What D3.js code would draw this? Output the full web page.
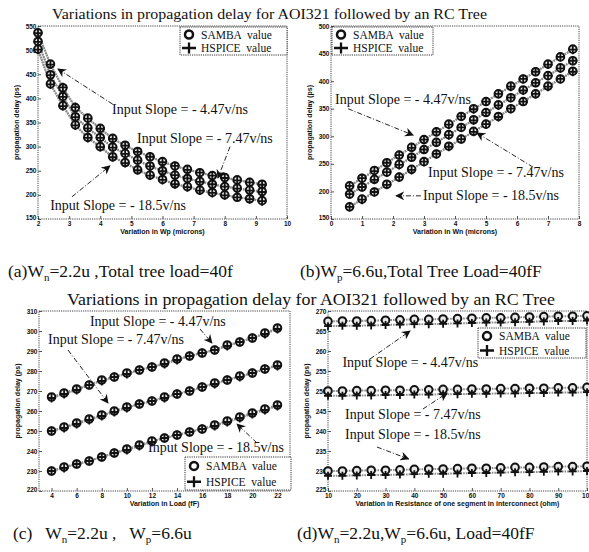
<!DOCTYPE html>
<html><head><meta charset="utf-8">
<script src="https://cdn.jsdelivr.net/npm/d3@7"></script>
<style>
body{margin:0;background:#fff}
.tk text{font-family:"Liberation Sans",Arial,sans-serif;font-weight:bold;font-size:6.5px;fill:#111}
.axl{font-family:"Liberation Sans",Arial,sans-serif;font-weight:bold;font-size:7px;fill:#111}
.serif{font-family:"Liberation Serif","Times New Roman",serif;fill:#111}
</style></head><body><svg id="c" width="589" height="552"></svg>
<script>
// ---------- data ----------
const titleText = "Variations in propagation delay for AOI321 followed by an RC Tree";
const slopeLabels = ["Input Slope = - 4.47v/ns", "Input Slope = - 7.47v/ns", "Input Slope = - 18.5v/ns"];
const legendLabels = ["SAMBA  value", "HSPICE  value"];

// (a) variation in Wp
const aX = [2.0,2.4,2.8,3.2,3.6,4.0,4.4,4.8,5.2,5.6,6.0,6.4,6.8,7.2,7.6,8.0,8.4,8.8,9.2];
const aSamba447 = [536,471,422,381,359,338,317,303,290,279,269,260,253,246,240,236,231,226,222];
const aHspice447 = [535,470,423,382,358,337,316,302,289,279,268,260,252,246,240,235,230,226,221];
const aSamba747 = [518,449,404,362,339,319,299,286,272,260,250,241,234,228,222,217,214,210,207];
const aHspice747 = [517,448,403,361,338,318,298,285,271,259,249,241,234,227,222,217,213,209,206];
const aSamba185 = [502,430,385,345,319,300,279,267,252,241,232,223,217,210,205,200,195,192,188];
const aHspice185 = [501,429,384,344,318,299,278,266,251,240,231,222,216,209,204,199,195,191,187];
const aXTicks = [2,3,4,5,6,7,8,9,10];
const aYTicks = [150,200,250,300,350,400,450,500,550];

// (b) variation in Wn
const bX = [0.6,1.0,1.4,1.8,2.2,2.6,3.0,3.4,3.8,4.2,4.6,5.0,5.4,5.8,6.2,6.6,7.0,7.4,7.8];
const bSamba447 = [210,224,238,252,266,280,294,308,322,336,350,363,377,391,404,417,431,444,458];
const bHspice447 = [210,224,237,252,266,279,294,308,321,336,349,363,377,390,404,417,430,444,457];
const bSamba747 = [195,208,222,235,249,262,276,289,303,316,330,343,357,370,384,397,410,424,437];
const bHspice747 = [195,208,221,235,248,262,276,289,302,316,329,343,356,370,383,397,410,423,437];
const bSamba185 = [172,186,199,213,226,240,254,268,282,295,309,322,336,350,363,377,391,404,418];
const bHspice185 = [172,185,199,212,226,239,254,268,281,295,308,322,335,350,363,377,390,404,417];
const bXTicks = [0,1,2,3,4,5,6,7,8];
const bYTicks = [150,200,250,300,350,400,450,500];

// (c) variation in load
const cX = [4,5,6,7,8,9,10,11,12,13,14,15,16,17,18,19,20,21,22];
const cSamba447 = [267,269,271,273,275.5,277,279,280.5,282,284,286,287.5,289,290.5,293,294.5,296.5,299,301.5];
const cHspice447 = [266.5,268.5,270.5,273,275,277,278.5,280.5,282,283.5,285.5,287.5,289,290.5,292.5,294.5,296.5,298.5,301];
const cSamba747 = [250,252,254,256,258,260,262,263.5,265,267,268.5,270,272,274,275.5,277.5,279,281,283];
const cHspice747 = [250,251.5,253.5,255.5,257.5,259.5,261.5,263.5,265,266.5,268.5,270,272,273.5,275.5,277,279,281,282.5];
const cSamba185 = [230,232,233.5,235,237,239,241,243,245,246.5,248,249.5,251,253,255,257,259,261,263];
const cHspice185 = [230,231.5,233.5,235,237,239,240.5,242.5,244.5,246.5,248,249.5,251,252.5,254.5,256.5,258.5,260.5,262.5];
const cXTicks = [4,6,8,10,12,14,16,18,20,22];
const cYTicks = [220,230,240,250,260,270,280,290,300,310];

// (d) variation in resistance of one segment
const dX = [10,15,20,25,30,35,40,45,50,55,60,65,70,75,80,85,90,95,100];
const dSamba447 = [267.4,267.5,267.5,267.6,267.7,267.8,267.9,267.9,268.0,268.1,268.2,268.3,268.3,268.4,268.5,268.6,268.7,268.7,268.8];
const dHspice447 = [266.2,266.3,266.3,266.4,266.5,266.6,266.7,266.7,266.8,266.9,267.0,267.1,267.1,267.2,267.3,267.4,267.5,267.5,267.6];
const dSamba747 = [250.0,250.0,250.1,250.1,250.2,250.2,250.3,250.3,250.4,250.4,250.5,250.5,250.6,250.6,250.7,250.7,250.8,250.8,250.9];
const dHspice747 = [248.8,248.8,248.9,248.9,249.0,249.0,249.1,249.1,249.2,249.2,249.3,249.3,249.4,249.4,249.5,249.5,249.6,249.6,249.7];
const dSamba185 = [230.0,230.0,230.1,230.2,230.2,230.3,230.4,230.5,230.5,230.6,230.7,230.7,230.8,230.9,230.9,231.0,231.1,231.1,231.2];
const dHspice185 = [228.8,228.8,228.9,229.0,229.0,229.1,229.2,229.3,229.3,229.4,229.5,229.5,229.6,229.7,229.7,229.8,229.9,229.9,230.0];
const dXTicks = [10,20,30,40,50,60,70,80,90,100];
const dYTicks = [225,230,235,240,245,250,255,260,265,270];

// ---------- drawing ----------
const svg = d3.select("#c");
const defs = svg.append("defs");
defs.append("marker").attr("id","ah").attr("viewBox","0 0 10 10").attr("refX",9).attr("refY",5)
  .attr("markerWidth",9).attr("markerHeight",9).attr("orient","auto").attr("markerUnits","userSpaceOnUse")
  .append("path").attr("d","M0,0L10,5L0,10L3,5Z").attr("fill","#111");

function drawPanel(p){
  const g = svg.append("g");
  const x = d3.scaleLinear().domain(p.xDomain).range([p.left, p.right]);
  const y = d3.scaleLinear().domain(p.yDomain).range([p.bottom, p.top]);
  const xa = g.append("g").attr("class","tk").attr("transform",`translate(0,${p.bottom})`)
    .call(d3.axisBottom(x).tickValues(p.xTicks).tickSize(-3).tickPadding(2).tickFormat(d3.format("d")));
  const ya = g.append("g").attr("class","tk").attr("transform",`translate(${p.left},0)`)
    .call(d3.axisLeft(y).tickValues(p.yTicks).tickSize(-3).tickPadding(1.5).tickFormat(d3.format("d")));
  [xa,ya].forEach(a=>{a.select(".domain").remove(); a.selectAll("line").attr("stroke","#555");});
  // nudge lowest y label up a bit so it clears the first x label
  ya.selectAll(".tick text").filter(d=>d===p.yTicks[0]).attr("dy","0.1em");
  g.append("rect").attr("x",p.left).attr("y",p.top).attr("width",p.right-p.left).attr("height",p.bottom-p.top)
    .attr("fill","none").attr("stroke","#444").attr("stroke-width",1).attr("stroke-dasharray","1.2,1");
  g.append("text").attr("class","axl").attr("x",(p.left+p.right)/2).attr("y",p.bottom+14.5)
    .attr("text-anchor","middle").text(p.xLabel);
  g.append("text").attr("class","axl").attr("transform",`translate(${p.left-19},${(p.top+p.bottom)/2}) rotate(-90)`)
    .attr("text-anchor","middle").text("propagation delay (ps)");
  const line = d3.line().x(d=>x(d[0])).y(d=>y(d[1]));
  p.series.forEach(s=>{
    [s.hspice, s.samba].forEach(vals=>{
      g.append("path").datum(s.x.map((v,i)=>[v,vals[i]])).attr("d",line)
        .attr("fill","none").attr("stroke","#8c8c8c").attr("stroke-width",2).attr("stroke-dasharray","1.6,1");
    });
  });
  const pa = p.plusArm || 4.5;
  p.series.forEach(s=>{
    g.selectAll(null).data(s.x.map((v,i)=>[v,s.samba[i]])).join("circle")
      .attr("cx",d=>x(d[0])).attr("cy",d=>y(d[1])).attr("r",3.8)
      .attr("fill","#e8e8e8").attr("stroke","#111").attr("stroke-width",2);
    g.selectAll(null).data(s.x.map((v,i)=>[v,s.hspice[i]])).join("path")
      .attr("d",d=>{const cx=x(d[0]),cy=y(d[1]);return `M${cx-pa},${cy}H${cx+pa}M${cx},${cy-pa}V${cy+pa}`;})
      .attr("stroke","#111").attr("stroke-width",1.8);
  });
  p.notes.forEach(n=>{
    g.append("line").attr("x1",x(n.from[0])).attr("y1",y(n.from[1])).attr("x2",x(n.to[0])).attr("y2",y(n.to[1]))
      .attr("stroke","#222").attr("stroke-width",1).attr("stroke-dasharray","5,2,1,2").attr("marker-end","url(#ah)");
    g.append("text").attr("class","serif").attr("x",x(n.at[0])).attr("y",y(n.at[1])).attr("font-size",14).text(n.text);
  });
  const L = p.legend;
  const lg = g.append("g").attr("transform",`translate(${L.x},${L.y})`);
  lg.append("rect").attr("width",L.w).attr("height",L.h).attr("fill","#fff")
    .attr("stroke","#333").attr("stroke-dasharray","1.2,1");
  const r1 = L.h*0.27, r2 = L.h*0.75;
  lg.append("circle").attr("cx",9).attr("cy",r1).attr("r",4).attr("fill","#fff").attr("stroke","#111").attr("stroke-width",2.5);
  lg.append("path").attr("d",`M2,${r2}H16M9,${r2-5.5}V${r2+5.5}`).attr("stroke","#111").attr("stroke-width",2.3);
  lg.append("text").attr("class","serif").attr("x",21).attr("y",r1+4).attr("font-size",11.5).style("white-space","pre").text(legendLabels[0]);
  lg.append("text").attr("class","serif").attr("x",21).attr("y",r2+4).attr("font-size",11.5).style("white-space","pre").text(legendLabels[1]);
}

drawPanel({left:38,right:287,top:26,bottom:219,xDomain:[2,10],yDomain:[150,550],xTicks:aXTicks,yTicks:aYTicks,
  xLabel:"Variation in Wp (microns)",
  series:[{x:aX,samba:aSamba447,hspice:aHspice447},{x:aX,samba:aSamba747,hspice:aHspice747},{x:aX,samba:aSamba185,hspice:aHspice185}],
  notes:[{text:slopeLabels[0],at:[4.38,367],from:[4.4,388],to:[2.64,461]},
         {text:slopeLabels[1],at:[5.18,307],from:[8.17,300],to:[7.78,235]},
         {text:slopeLabels[2],at:[2.39,168],from:[3.09,196],to:[4.31,260]}],
  legend:{x:180,y:27,w:107,h:28}});

drawPanel({left:331,right:579,top:26,bottom:219,xDomain:[0,8],yDomain:[150,500],xTicks:bXTicks,yTicks:bYTicks,
  xLabel:"Variation in Wn (microns)",
  series:[{x:bX,samba:bSamba447,hspice:bHspice447},{x:bX,samba:bSamba747,hspice:bHspice747},{x:bX,samba:bSamba185,hspice:bHspice185}],
  notes:[{text:slopeLabels[0],at:[0.13,358],from:[0.55,350],to:[2.65,302]},
         {text:slopeLabels[1],at:[3.13,226],from:[6.52,244],to:[4.71,306]},
         {text:slopeLabels[2],at:[2.97,184],from:[2.9,192],to:[2.1,192]}],
  legend:{x:332,y:27,w:101,h:28}});

drawPanel({left:39,right:290,top:311,bottom:491,xDomain:[3,23],yDomain:[220,310],xTicks:cXTicks,yTicks:cYTicks,
  xLabel:"Variation in Load (fF)",
  series:[{x:cX,samba:cSamba447,hspice:cHspice447},{x:cX,samba:cSamba747,hspice:cHspice747},{x:cX,samba:cSamba185,hspice:cHspice185}],
  notes:[{text:slopeLabels[0],at:[7.06,302.5],from:[15.83,301],to:[16.78,294]},
         {text:slopeLabels[1],at:[3.72,293.5],from:[5.31,290.5],to:[8.5,264]},
         {text:slopeLabels[2],at:[11.69,239.5],from:[20.37,244],to:[18.78,253.5]}],
  legend:{x:185,y:457,w:106,h:33}});

drawPanel({left:328,right:587,top:311,bottom:491,xDomain:[10,100],yDomain:[225,270],xTicks:dXTicks,yTicks:dYTicks,plusArm:4,
  xLabel:"Variation in Resistance of one segment in interconnect (ohm)",
  series:[{x:dX,samba:dSamba447,hspice:dHspice447},{x:dX,samba:dSamba747,hspice:dHspice747},{x:dX,samba:dSamba185,hspice:dHspice185}],
  notes:[{text:slopeLabels[0],at:[15,256],from:[24.6,258],to:[38.5,265]},
         {text:slopeLabels[1],at:[15.9,243],from:[43,245.5],to:[51.4,249.5]},
         {text:slopeLabels[2],at:[15.9,238],from:[27,236],to:[38,233]}],
  legend:{x:478,y:328,w:108,h:30}});

// titles
svg.append("text").attr("class","serif").attr("x",52).attr("y",19).attr("font-size",15.5)
  .attr("textLength",435).attr("lengthAdjust","spacingAndGlyphs").text(titleText);
svg.append("text").attr("class","serif").attr("x",67).attr("y",305).attr("font-size",17.5)
  .attr("textLength",488).attr("lengthAdjust","spacingAndGlyphs").text(titleText);

// captions
function caption(x0,y0,parts){
  const t = svg.append("text").attr("class","serif").attr("x",x0).attr("y",y0).attr("font-size",17.5).style("white-space","pre");
  parts.forEach(pt=>{
    if(pt.sub){ t.append("tspan").attr("font-size",11).attr("dy",4).text(pt.sub); }
    else t.append("tspan").attr("dy", pt.after ? -4 : 0).text(pt.t);
  });
}
caption(8,277,[{t:"(a)W"},{sub:"n"},{t:"=2.2u ,Total tree load=40f",after:1}]);
caption(300,277,[{t:"(b)W"},{sub:"p"},{t:"=6.6u,Total Tree Load=40fF",after:1}]);
caption(13,539,[{t:"(c)   W"},{sub:"n"},{t:"=2.2u ,   W",after:1},{sub:"p"},{t:"=6.6u",after:1}]);
caption(297,539,[{t:"(d)W"},{sub:"n"},{t:"=2.2u,W",after:1},{sub:"p"},{t:"=6.6u, Load=40fF",after:1}]);
</script></body></html>
